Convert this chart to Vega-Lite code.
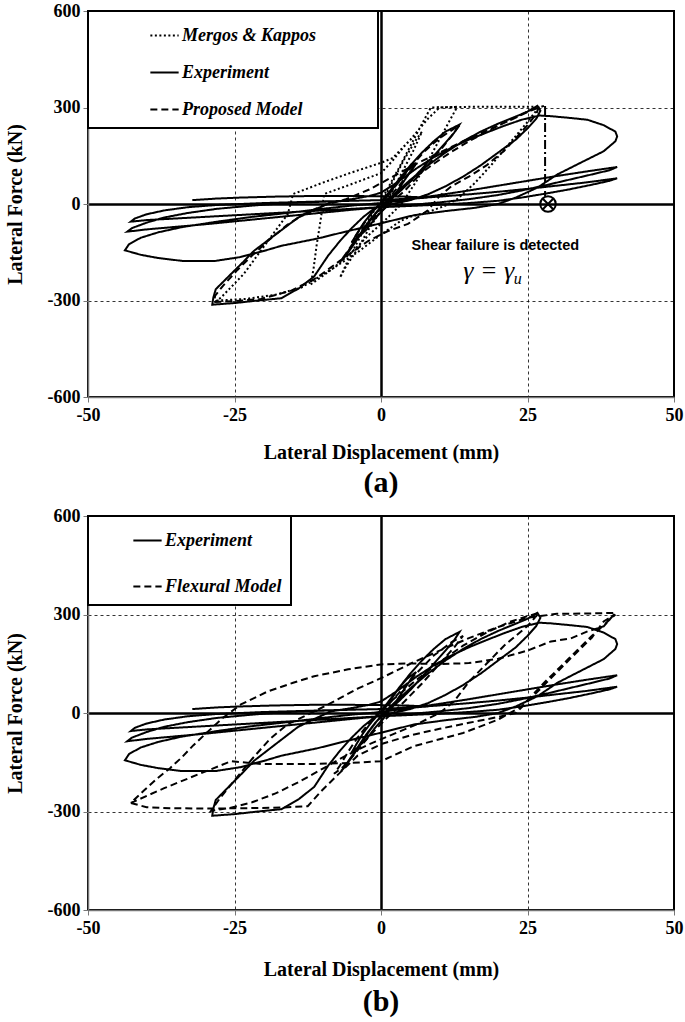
{
"$schema": "https://vega.github.io/schema/vega-lite/v6.json",
"padding": {"left": 4, "right": 4, "top": 1, "bottom": 2},
"config": {
 "view": {"stroke": "black", "strokeWidth": 2},
 "axis": {"labelFont": "Liberation Serif", "labelFontWeight": "bold", "labelFontSize": 18, "labelColor": "black", "titleFont": "Liberation Serif", "titleFontWeight": "bold", "titleFontSize": 20, "titleColor": "black", "tickColor": "#777", "tickSize": 5, "domainColor": "#777", "domainWidth": 1.5, "gridColor": "black", "labelFlush": false, "labelOverlap": false},
 "legend": {"strokeWidth": 2},
 "concat": {"spacing": 7}
},
"resolve": {"scale": {"strokeDash": "independent"}, "legend": {"strokeDash": "independent"}},
"datasets": {
 "fail": [{"x": 28, "y": 305, "y2": 24}],
 "mark": [{"x": 28.5, "y": 0}],
 "note": [{"x": 19.5, "y": -130, "t": "Shear failure is detected"}],
 "gam": [{"x": 18.4, "y": -208, "t": "γ = γ", "u": "u"}],
 "curves": [
{"s":"Experiment","x":0,"y":0},{"s":"Experiment","x":1.5,"y":35},{"s":"Experiment","x":3,"y":75},{"s":"Experiment","x":4.5,"y":105},{"s":"Experiment","x":6,"y":125},{"s":"Experiment","x":5,"y":100},{"s":"Experiment","x":3.5,"y":60},{"s":"Experiment","x":2,"y":20},{"s":"Experiment","x":0.5,"y":-15},{"s":"Experiment","x":-1,"y":-45},{"s":"Experiment","x":-2.5,"y":-80},{"s":"Experiment","x":-4,"y":-105},{"s":"Experiment","x":-5,"y":-120},{"s":"Experiment","x":-4.2,"y":-95},{"s":"Experiment","x":-3,"y":-60},{"s":"Experiment","x":-1.5,"y":-25},{"s":"Experiment","x":0,"y":5},
{"s":"Experiment","x":1.5,"y":40},{"s":"Experiment","x":3,"y":75},{"s":"Experiment","x":5,"y":120},{"s":"Experiment","x":7,"y":160},{"s":"Experiment","x":9,"y":195},{"s":"Experiment","x":11,"y":225},{"s":"Experiment","x":13.4,"y":247},{"s":"Experiment","x":12.5,"y":222},{"s":"Experiment","x":11,"y":190},{"s":"Experiment","x":9,"y":150},{"s":"Experiment","x":7,"y":110},{"s":"Experiment","x":5,"y":70},{"s":"Experiment","x":3,"y":35},{"s":"Experiment","x":1,"y":5},{"s":"Experiment","x":-1,"y":-30},{"s":"Experiment","x":-2.5,"y":-65},{"s":"Experiment","x":-4,"y":-105},{"s":"Experiment","x":-5.5,"y":-145},{"s":"Experiment","x":-6.8,"y":-177},{"s":"Experiment","x":-6.2,"y":-165},{"s":"Experiment","x":-5,"y":-135},{"s":"Experiment","x":-3.5,"y":-95},{"s":"Experiment","x":-2,"y":-55},{"s":"Experiment","x":-0.5,"y":-20},{"s":"Experiment","x":0.5,"y":0},
{"s":"Experiment","x":2.5,"y":35},{"s":"Experiment","x":5,"y":75},{"s":"Experiment","x":8,"y":120},{"s":"Experiment","x":11,"y":160},{"s":"Experiment","x":14,"y":195},{"s":"Experiment","x":17,"y":225},{"s":"Experiment","x":20,"y":250},{"s":"Experiment","x":23,"y":272},{"s":"Experiment","x":25,"y":287},{"s":"Experiment","x":26.7,"y":305},{"s":"Experiment","x":27.2,"y":290},{"s":"Experiment","x":26.5,"y":265},{"s":"Experiment","x":25,"y":235},{"s":"Experiment","x":23,"y":200},{"s":"Experiment","x":20,"y":160},{"s":"Experiment","x":17,"y":120},{"s":"Experiment","x":14,"y":85},{"s":"Experiment","x":11,"y":55},{"s":"Experiment","x":8,"y":30},{"s":"Experiment","x":5,"y":12},{"s":"Experiment","x":2,"y":0},{"s":"Experiment","x":-1,"y":-12},
{"s":"Experiment","x":-3,"y":-40},{"s":"Experiment","x":-5,"y":-75},{"s":"Experiment","x":-7,"y":-115},{"s":"Experiment","x":-9,"y":-160},{"s":"Experiment","x":-11.4,"y":-225},{"s":"Experiment","x":-14,"y":-262},{"s":"Experiment","x":-17,"y":-293},{"s":"Experiment","x":-21,"y":-300},{"s":"Experiment","x":-25,"y":-308},{"s":"Experiment","x":-28.8,"y":-313},{"s":"Experiment","x":-28.6,"y":-290},{"s":"Experiment","x":-28.2,"y":-265},{"s":"Experiment","x":-26,"y":-225},{"s":"Experiment","x":-23.5,"y":-180},{"s":"Experiment","x":-21.7,"y":-146},{"s":"Experiment","x":-18,"y":-95},{"s":"Experiment","x":-14.2,"y":-43},{"s":"Experiment","x":-11,"y":-15},{"s":"Experiment","x":-8.5,"y":5},{"s":"Experiment","x":-5,"y":15},{"s":"Experiment","x":-2,"y":25},{"s":"Experiment","x":0,"y":35},
{"s":"Experiment","x":3,"y":70},{"s":"Experiment","x":6,"y":110},{"s":"Experiment","x":9,"y":145},{"s":"Experiment","x":12,"y":175},{"s":"Experiment","x":15,"y":200},{"s":"Experiment","x":18,"y":222},{"s":"Experiment","x":21,"y":243},{"s":"Experiment","x":24,"y":262},{"s":"Experiment","x":27,"y":275},{"s":"Experiment","x":29,"y":273},{"s":"Experiment","x":32,"y":268},{"s":"Experiment","x":35.2,"y":262},{"s":"Experiment","x":38,"y":245},{"s":"Experiment","x":40,"y":225},{"s":"Experiment","x":40.3,"y":210},{"s":"Experiment","x":40,"y":195},{"s":"Experiment","x":38,"y":164},{"s":"Experiment","x":34.7,"y":134},{"s":"Experiment","x":30.1,"y":92},{"s":"Experiment","x":26.7,"y":51},{"s":"Experiment","x":23,"y":20},{"s":"Experiment","x":20,"y":0},{"s":"Experiment","x":16,"y":-12},{"s":"Experiment","x":11,"y":-22},{"s":"Experiment","x":5.6,"y":-35},{"s":"Experiment","x":0,"y":-60},{"s":"Experiment","x":-5.6,"y":-84},{"s":"Experiment","x":-11,"y":-108},{"s":"Experiment","x":-17,"y":-130},{"s":"Experiment","x":-20,"y":-146},{"s":"Experiment","x":-24,"y":-165},{"s":"Experiment","x":-28.3,"y":-177},{"s":"Experiment","x":-33.9,"y":-177},{"s":"Experiment","x":-38,"y":-168},{"s":"Experiment","x":-41,"y":-158},{"s":"Experiment","x":-43.7,"y":-144},{"s":"Experiment","x":-43,"y":-125},{"s":"Experiment","x":-41,"y":-105},{"s":"Experiment","x":-38,"y":-88},{"s":"Experiment","x":-34,"y":-72},{"s":"Experiment","x":-28,"y":-55},{"s":"Experiment","x":-22,"y":-40},{"s":"Experiment","x":-16,"y":-28},{"s":"Experiment","x":-10,"y":-15},{"s":"Experiment","x":-5,"y":-5},{"s":"Experiment","x":0,"y":3},
{"s":"Experiment","x":5,"y":15},{"s":"Experiment","x":10,"y":28},{"s":"Experiment","x":15,"y":42},{"s":"Experiment","x":20,"y":57},{"s":"Experiment","x":25,"y":72},{"s":"Experiment","x":30,"y":87},{"s":"Experiment","x":35,"y":101},{"s":"Experiment","x":40.3,"y":115},{"s":"Experiment","x":39,"y":105},{"s":"Experiment","x":36,"y":92},{"s":"Experiment","x":32,"y":75},{"s":"Experiment","x":28,"y":58},{"s":"Experiment","x":24,"y":42},{"s":"Experiment","x":20,"y":28},{"s":"Experiment","x":15,"y":15},{"s":"Experiment","x":10,"y":5},{"s":"Experiment","x":5,"y":-3},{"s":"Experiment","x":0,"y":-10},
{"s":"Experiment","x":-5,"y":-18},{"s":"Experiment","x":-10,"y":-27},{"s":"Experiment","x":-15,"y":-36},{"s":"Experiment","x":-20,"y":-45},{"s":"Experiment","x":-25,"y":-54},{"s":"Experiment","x":-30,"y":-63},{"s":"Experiment","x":-35,"y":-71},{"s":"Experiment","x":-40,"y":-79},{"s":"Experiment","x":-43.3,"y":-86},{"s":"Experiment","x":-42.5,"y":-75},{"s":"Experiment","x":-40,"y":-58},{"s":"Experiment","x":-37,"y":-42},{"s":"Experiment","x":-33,"y":-28},{"s":"Experiment","x":-28,"y":-15},{"s":"Experiment","x":-22,"y":-5},{"s":"Experiment","x":-16,"y":3},{"s":"Experiment","x":-10,"y":7},{"s":"Experiment","x":-5,"y":10},{"s":"Experiment","x":0,"y":12},
{"s":"Experiment","x":5,"y":17},{"s":"Experiment","x":10,"y":23},{"s":"Experiment","x":15,"y":30},{"s":"Experiment","x":20,"y":38},{"s":"Experiment","x":25,"y":47},{"s":"Experiment","x":30,"y":57},{"s":"Experiment","x":35,"y":67},{"s":"Experiment","x":40.3,"y":80},{"s":"Experiment","x":39,"y":72},{"s":"Experiment","x":36,"y":60},{"s":"Experiment","x":32,"y":45},{"s":"Experiment","x":28,"y":32},{"s":"Experiment","x":24,"y":20},{"s":"Experiment","x":20,"y":10},{"s":"Experiment","x":15,"y":3},{"s":"Experiment","x":10,"y":-2},{"s":"Experiment","x":5,"y":-6},{"s":"Experiment","x":0,"y":-10},
{"s":"Experiment","x":-5,"y":-15},{"s":"Experiment","x":-10,"y":-20},{"s":"Experiment","x":-15,"y":-25},{"s":"Experiment","x":-20,"y":-30},{"s":"Experiment","x":-25,"y":-35},{"s":"Experiment","x":-30,"y":-40},{"s":"Experiment","x":-35,"y":-45},{"s":"Experiment","x":-40,"y":-50},{"s":"Experiment","x":-42.7,"y":-55},{"s":"Experiment","x":-42,"y":-45},{"s":"Experiment","x":-40,"y":-32},{"s":"Experiment","x":-37,"y":-20},{"s":"Experiment","x":-33,"y":-10},{"s":"Experiment","x":-28,"y":-3},{"s":"Experiment","x":-20,"y":3},{"s":"Experiment","x":-10,"y":8},{"s":"Experiment","x":0,"y":12},{"s":"Experiment","x":5,"y":16},{"s":"Experiment","x":8,"y":20},{"s":"Experiment","x":4,"y":23},{"s":"Experiment","x":0,"y":24},{"s":"Experiment","x":-6,"y":25},{"s":"Experiment","x":-11.4,"y":25},{"s":"Experiment","x":-18,"y":23},{"s":"Experiment","x":-23.9,"y":20},{"s":"Experiment","x":-28,"y":17},{"s":"Experiment","x":-32.2,"y":12},

{"s":"Mergos & Kappos","x":0,"y":0},{"s":"Mergos & Kappos","x":2,"y":70},{"s":"Mergos & Kappos","x":4,"y":140},{"s":"Mergos & Kappos","x":6,"y":200},{"s":"Mergos & Kappos","x":7,"y":225},{"s":"Mergos & Kappos","x":5.5,"y":165},{"s":"Mergos & Kappos","x":3.5,"y":95},{"s":"Mergos & Kappos","x":1.5,"y":25},{"s":"Mergos & Kappos","x":0,"y":-20},{"s":"Mergos & Kappos","x":-2,"y":-75},{"s":"Mergos & Kappos","x":-4,"y":-140},{"s":"Mergos & Kappos","x":-6,"y":-195},{"s":"Mergos & Kappos","x":-7,"y":-229},{"s":"Mergos & Kappos","x":-5.5,"y":-170},{"s":"Mergos & Kappos","x":-3.5,"y":-100},{"s":"Mergos & Kappos","x":-1.5,"y":-30},{"s":"Mergos & Kappos","x":0,"y":10},
{"s":"Mergos & Kappos","x":3,"y":110},{"s":"Mergos & Kappos","x":6,"y":215},{"s":"Mergos & Kappos","x":8.5,"y":300},{"s":"Mergos & Kappos","x":13,"y":302},{"s":"Mergos & Kappos","x":11,"y":235},{"s":"Mergos & Kappos","x":8.5,"y":150},{"s":"Mergos & Kappos","x":6,"y":70},{"s":"Mergos & Kappos","x":3.5,"y":0},{"s":"Mergos & Kappos","x":1,"y":-45},{"s":"Mergos & Kappos","x":-2,"y":-95},{"s":"Mergos & Kappos","x":-5,"y":-150},{"s":"Mergos & Kappos","x":-8.5,"y":-205},{"s":"Mergos & Kappos","x":-12,"y":-250},{"s":"Mergos & Kappos","x":-11.5,"y":-200},{"s":"Mergos & Kappos","x":-11,"y":-130},{"s":"Mergos & Kappos","x":-10.3,"y":-50},{"s":"Mergos & Kappos","x":-9.7,"y":31},{"s":"Mergos & Kappos","x":-5,"y":62},{"s":"Mergos & Kappos","x":0,"y":96},{"s":"Mergos & Kappos","x":2,"y":135},{"s":"Mergos & Kappos","x":4,"y":180},{"s":"Mergos & Kappos","x":6.2,"y":222},{"s":"Mergos & Kappos","x":8.5,"y":300},{"s":"Mergos & Kappos","x":15,"y":302},{"s":"Mergos & Kappos","x":21,"y":302},{"s":"Mergos & Kappos","x":27,"y":302},
{"s":"Mergos & Kappos","x":25,"y":255},{"s":"Mergos & Kappos","x":22,"y":190},{"s":"Mergos & Kappos","x":19,"y":125},{"s":"Mergos & Kappos","x":16,"y":65},{"s":"Mergos & Kappos","x":13,"y":15},{"s":"Mergos & Kappos","x":11,"y":-5},{"s":"Mergos & Kappos","x":8,"y":-25},{"s":"Mergos & Kappos","x":5,"y":-40},{"s":"Mergos & Kappos","x":3.4,"y":-52},{"s":"Mergos & Kappos","x":0,"y":-95},{"s":"Mergos & Kappos","x":-4,"y":-150},{"s":"Mergos & Kappos","x":-8,"y":-198},{"s":"Mergos & Kappos","x":-13.6,"y":-260},{"s":"Mergos & Kappos","x":-18,"y":-282},{"s":"Mergos & Kappos","x":-23,"y":-295},{"s":"Mergos & Kappos","x":-28,"y":-300},
{"s":"Mergos & Kappos","x":-27.3,"y":-291},{"s":"Mergos & Kappos","x":-23.4,"y":-217},{"s":"Mergos & Kappos","x":-19.3,"y":-115},{"s":"Mergos & Kappos","x":-15.9,"y":-31},{"s":"Mergos & Kappos","x":-15,"y":31},{"s":"Mergos & Kappos","x":-10,"y":66},{"s":"Mergos & Kappos","x":-5,"y":98},{"s":"Mergos & Kappos","x":0,"y":128},{"s":"Mergos & Kappos","x":2,"y":143},{"s":"Mergos & Kappos","x":5,"y":200},{"s":"Mergos & Kappos","x":8,"y":265},{"s":"Mergos & Kappos","x":10,"y":300},{"s":"Mergos & Kappos","x":13,"y":302},

{"s":"Proposed Model","x":0,"y":0},{"s":"Proposed Model","x":2,"y":45},{"s":"Proposed Model","x":4,"y":90},{"s":"Proposed Model","x":6,"y":130},{"s":"Proposed Model","x":5,"y":100},{"s":"Proposed Model","x":3,"y":55},{"s":"Proposed Model","x":1,"y":10},{"s":"Proposed Model","x":-0.5,"y":-25},{"s":"Proposed Model","x":-2,"y":-60},{"s":"Proposed Model","x":-3.5,"y":-95},{"s":"Proposed Model","x":-5,"y":-120},{"s":"Proposed Model","x":-4,"y":-90},{"s":"Proposed Model","x":-2.5,"y":-50},{"s":"Proposed Model","x":-1,"y":-15},{"s":"Proposed Model","x":0.5,"y":10},
{"s":"Proposed Model","x":3,"y":70},{"s":"Proposed Model","x":5,"y":115},{"s":"Proposed Model","x":7.5,"y":165},{"s":"Proposed Model","x":10,"y":205},{"s":"Proposed Model","x":13.4,"y":245},{"s":"Proposed Model","x":12,"y":210},{"s":"Proposed Model","x":10,"y":165},{"s":"Proposed Model","x":8,"y":120},{"s":"Proposed Model","x":6,"y":80},{"s":"Proposed Model","x":4,"y":40},{"s":"Proposed Model","x":2,"y":10},{"s":"Proposed Model","x":0,"y":-25},{"s":"Proposed Model","x":-2,"y":-60},{"s":"Proposed Model","x":-4,"y":-105},{"s":"Proposed Model","x":-5.5,"y":-145},{"s":"Proposed Model","x":-7,"y":-180},{"s":"Proposed Model","x":-6,"y":-155},{"s":"Proposed Model","x":-4.5,"y":-115},{"s":"Proposed Model","x":-3,"y":-75},{"s":"Proposed Model","x":-1.5,"y":-40},{"s":"Proposed Model","x":0,"y":-10},
{"s":"Proposed Model","x":3,"y":40},{"s":"Proposed Model","x":6,"y":85},{"s":"Proposed Model","x":9,"y":125},{"s":"Proposed Model","x":12,"y":162},{"s":"Proposed Model","x":15,"y":195},{"s":"Proposed Model","x":18,"y":225},{"s":"Proposed Model","x":21,"y":252},{"s":"Proposed Model","x":24,"y":278},{"s":"Proposed Model","x":27,"y":305},{"s":"Proposed Model","x":26.5,"y":280},{"s":"Proposed Model","x":25,"y":245},{"s":"Proposed Model","x":23,"y":205},{"s":"Proposed Model","x":21,"y":165},{"s":"Proposed Model","x":18,"y":120},{"s":"Proposed Model","x":15,"y":85},{"s":"Proposed Model","x":12,"y":55},{"s":"Proposed Model","x":10,"y":25},{"s":"Proposed Model","x":8,"y":-20},{"s":"Proposed Model","x":4.6,"y":-62},{"s":"Proposed Model","x":1.2,"y":-84},{"s":"Proposed Model","x":-2.2,"y":-115},{"s":"Proposed Model","x":-6.3,"y":-167},{"s":"Proposed Model","x":-11,"y":-230},{"s":"Proposed Model","x":-15.4,"y":-270},{"s":"Proposed Model","x":-20.5,"y":-295},{"s":"Proposed Model","x":-25,"y":-302},{"s":"Proposed Model","x":-28.5,"y":-305},{"s":"Proposed Model","x":-28.3,"y":-285},{"s":"Proposed Model","x":-27,"y":-255},{"s":"Proposed Model","x":-24.5,"y":-205},{"s":"Proposed Model","x":-22,"y":-160},{"s":"Proposed Model","x":-19,"y":-110},{"s":"Proposed Model","x":-16,"y":-65},{"s":"Proposed Model","x":-13,"y":-30},{"s":"Proposed Model","x":-10,"y":-5},{"s":"Proposed Model","x":-6,"y":15},{"s":"Proposed Model","x":-2,"y":45},{"s":"Proposed Model","x":2,"y":85},{"s":"Proposed Model","x":6,"y":125},{"s":"Proposed Model","x":10,"y":160},{"s":"Proposed Model","x":14,"y":195},{"s":"Proposed Model","x":18,"y":228},{"s":"Proposed Model","x":22,"y":260},{"s":"Proposed Model","x":25.5,"y":290},{"s":"Proposed Model","x":27.8,"y":305},

{"s":"Flexural Model","x":0,"y":0},{"s":"Flexural Model","x":3,"y":60},{"s":"Flexural Model","x":6,"y":120},{"s":"Flexural Model","x":9,"y":175},{"s":"Flexural Model","x":12,"y":215},{"s":"Flexural Model","x":14,"y":235},{"s":"Flexural Model","x":12.5,"y":200},{"s":"Flexural Model","x":10,"y":150},{"s":"Flexural Model","x":7,"y":90},{"s":"Flexural Model","x":4,"y":35},{"s":"Flexural Model","x":1,"y":-15},{"s":"Flexural Model","x":-2,"y":-70},{"s":"Flexural Model","x":-4.5,"y":-125},{"s":"Flexural Model","x":-6.5,"y":-165},{"s":"Flexural Model","x":-8,"y":-185},{"s":"Flexural Model","x":-7,"y":-160},{"s":"Flexural Model","x":-5.5,"y":-115},{"s":"Flexural Model","x":-4,"y":-75},{"s":"Flexural Model","x":-2,"y":-30},{"s":"Flexural Model","x":0,"y":10},
{"s":"Flexural Model","x":3,"y":55},{"s":"Flexural Model","x":6,"y":100},{"s":"Flexural Model","x":10,"y":155},{"s":"Flexural Model","x":14,"y":205},{"s":"Flexural Model","x":18,"y":245},{"s":"Flexural Model","x":22,"y":278},{"s":"Flexural Model","x":25,"y":295},{"s":"Flexural Model","x":27,"y":305},
{"s":"Flexural Model","x":25,"y":265},{"s":"Flexural Model","x":21,"y":205},{"s":"Flexural Model","x":18,"y":150},{"s":"Flexural Model","x":15,"y":95},{"s":"Flexural Model","x":12.5,"y":36},{"s":"Flexural Model","x":10,"y":0},{"s":"Flexural Model","x":6,"y":-35},{"s":"Flexural Model","x":2,"y":-65},{"s":"Flexural Model","x":-2,"y":-95},{"s":"Flexural Model","x":-6,"y":-130},{"s":"Flexural Model","x":-10,"y":-170},{"s":"Flexural Model","x":-14,"y":-210},{"s":"Flexural Model","x":-18,"y":-245},{"s":"Flexural Model","x":-22,"y":-272},{"s":"Flexural Model","x":-26,"y":-290},{"s":"Flexural Model","x":-29,"y":-298},
{"s":"Flexural Model","x":-27.5,"y":-260},{"s":"Flexural Model","x":-25,"y":-205},{"s":"Flexural Model","x":-22,"y":-140},{"s":"Flexural Model","x":-19,"y":-80},{"s":"Flexural Model","x":-16,"y":-35},{"s":"Flexural Model","x":-12.5,"y":-5},{"s":"Flexural Model","x":-9,"y":26},{"s":"Flexural Model","x":-3.9,"y":75},{"s":"Flexural Model","x":0,"y":106},{"s":"Flexural Model","x":5,"y":150},{"s":"Flexural Model","x":10,"y":190},{"s":"Flexural Model","x":15,"y":228},{"s":"Flexural Model","x":20,"y":262},{"s":"Flexural Model","x":25,"y":290},{"s":"Flexural Model","x":30,"y":302},{"s":"Flexural Model","x":35,"y":303},{"s":"Flexural Model","x":40,"y":305},
{"s":"Flexural Model","x":38,"y":264},{"s":"Flexural Model","x":35.3,"y":249},{"s":"Flexural Model","x":32.4,"y":227},{"s":"Flexural Model","x":29,"y":218},{"s":"Flexural Model","x":25,"y":190},{"s":"Flexural Model","x":20,"y":165},{"s":"Flexural Model","x":15,"y":152},{"s":"Flexural Model","x":10,"y":149},{"s":"Flexural Model","x":5,"y":151},{"s":"Flexural Model","x":0,"y":148},{"s":"Flexural Model","x":-5.6,"y":133},{"s":"Flexural Model","x":-11.4,"y":112},{"s":"Flexural Model","x":-15,"y":92},{"s":"Flexural Model","x":-19.3,"y":66},{"s":"Flexural Model","x":-23.9,"y":26},{"s":"Flexural Model","x":-27,"y":-15},{"s":"Flexural Model","x":-29.5,"y":-56},{"s":"Flexural Model","x":-32,"y":-98},{"s":"Flexural Model","x":-34.1,"y":-137},{"s":"Flexural Model","x":-36,"y":-168},{"s":"Flexural Model","x":-38.1,"y":-198},{"s":"Flexural Model","x":-40.5,"y":-237},{"s":"Flexural Model","x":-42.7,"y":-274},
{"s":"Flexural Model","x":-40,"y":-287},{"s":"Flexural Model","x":-36,"y":-290},{"s":"Flexural Model","x":-30,"y":-291},{"s":"Flexural Model","x":-23,"y":-290},{"s":"Flexural Model","x":-17,"y":-288},{"s":"Flexural Model","x":-12.5,"y":-284},{"s":"Flexural Model","x":-10.2,"y":-238},{"s":"Flexural Model","x":-7.3,"y":-187},{"s":"Flexural Model","x":-4,"y":-130},{"s":"Flexural Model","x":0,"y":-95},{"s":"Flexural Model","x":5,"y":-68},{"s":"Flexural Model","x":10,"y":-48},{"s":"Flexural Model","x":15,"y":-30},{"s":"Flexural Model","x":20,"y":-12},{"s":"Flexural Model","x":23,"y":0},{"s":"Flexural Model","x":27,"y":70},{"s":"Flexural Model","x":32.4,"y":167},{"s":"Flexural Model","x":36,"y":230},{"s":"Flexural Model","x":38,"y":279},{"s":"Flexural Model","x":40,"y":300},
{"s":"Flexural Model","x":36,"y":235},{"s":"Flexural Model","x":32,"y":165},{"s":"Flexural Model","x":28,"y":95},{"s":"Flexural Model","x":24,"y":20},{"s":"Flexural Model","x":20,"y":-20},{"s":"Flexural Model","x":14,"y":-61},{"s":"Flexural Model","x":5.6,"y":-101},{"s":"Flexural Model","x":0,"y":-147},{"s":"Flexural Model","x":-5,"y":-152},{"s":"Flexural Model","x":-11.4,"y":-155},{"s":"Flexural Model","x":-20.5,"y":-155},{"s":"Flexural Model","x":-25.6,"y":-147},{"s":"Flexural Model","x":-31.2,"y":-187},{"s":"Flexural Model","x":-37,"y":-229},{"s":"Flexural Model","x":-42.7,"y":-274}
 ]
},
"vconcat": [
 {
  "width": 586, "height": 386,
  "title": {"text": "(a)", "orient": "bottom", "frame": "group", "anchor": "middle", "font": "Liberation Serif", "fontSize": 30, "fontWeight": "bold", "color": "black", "offset": 6},
  "encoding": {
   "x": {"field": "x", "type": "quantitative", "scale": {"domain": [-50, 50], "nice": false, "zero": false},
    "axis": {"values": [-50, -25, 0, 25, 50], "title": "Lateral Displacement (mm)", "titlePadding": 18, "labelPadding": 4, "labelExpr": "datum.value + ''",
     "gridDash": {"condition": {"test": "datum.value === 0", "value": [1, 0]}, "value": [3, 3]},
     "gridWidth": {"condition": {"test": "datum.value === 0", "value": 2.5}, "value": 0.8},
     "gridOpacity": {"condition": {"test": "abs(datum.value) === 50", "value": 0}, "value": 1}}},
   "y": {"field": "y", "type": "quantitative", "scale": {"domain": [-600, 600], "nice": false, "zero": false},
    "axis": {"values": [-600, -300, 0, 300, 600], "title": "Lateral Force (kN)", "titlePadding": 22, "labelPadding": 3, "labelExpr": "datum.value + ''",
     "gridDash": {"condition": {"test": "datum.value === 0", "value": [1, 0]}, "value": [3, 3]},
     "gridWidth": {"condition": {"test": "datum.value === 0", "value": 2.5}, "value": 0.8},
     "gridOpacity": {"condition": {"test": "abs(datum.value) === 600", "value": 0}, "value": 1}}}
  },
  "layer": [
   {"data": {"name": "curves"}, "transform": [{"filter": "datum.s !== 'Flexural Model'"}],
    "mark": {"type": "line", "color": "black", "strokeWidth": 2},
    "encoding": {"detail": {"field": "s"}, "order": {"value": null},
     "strokeDash": {"field": "s", "type": "nominal",
      "scale": {"domain": ["Mergos & Kappos", "Experiment", "Proposed Model"], "range": [[2, 2.5], [1, 0], [7, 4]]},
      "legend": {"title": null, "orient": "top-left", "offset": 0, "symbolType": "stroke", "symbolSize": 800, "symbolStrokeWidth": 2, "symbolStrokeColor": "black", "symbolOffset": 52, "padding": 9, "rowPadding": 12, "labelOffset": 2, "labelLimit": 500, "labelFont": "Liberation Serif", "labelFontSize": 18, "labelFontStyle": "italic", "labelFontWeight": "bold", "labelColor": "black", "strokeColor": "black", "fillColor": "white", "labelExpr": "datum.label + '\u2800\u2800\u2800\u2800'"}}}},
   {"data": {"name": "fail"}, "mark": {"type": "rule", "color": "black", "strokeWidth": 2, "strokeDash": [9, 3, 2, 3]}, "encoding": {"y2": {"field": "y2"}}},
   {"data": {"name": "mark"}, "mark": {"type": "point", "shape": "circle", "size": 240, "filled": false, "stroke": "black", "strokeWidth": 2, "opacity": 1}, "encoding": {}},
   {"data": {"name": "mark"}, "mark": {"type": "point", "shape": "M-0.7,-0.7L0.7,0.7M-0.7,0.7L0.7,-0.7", "size": 240, "filled": false, "stroke": "black", "strokeWidth": 2, "opacity": 1}, "encoding": {}},
   {"data": {"name": "note"}, "mark": {"type": "text", "font": "Liberation Sans", "fontWeight": "bold", "fontSize": 14.5, "color": "black", "align": "center", "baseline": "middle"}, "encoding": {"text": {"field": "t"}}},
   {"data": {"name": "gam"}, "mark": {"type": "text", "font": "Liberation Serif", "fontStyle": "italic", "fontSize": 26, "color": "black", "align": "center", "baseline": "middle"}, "encoding": {"text": {"field": "t"}}},
   {"data": {"name": "gam"}, "mark": {"type": "text", "font": "Liberation Serif", "fontStyle": "italic", "fontSize": 16, "color": "black", "align": "left", "baseline": "middle", "dx": 25, "dy": 8}, "encoding": {"text": {"field": "u"}}}
  ]
 },
 {
  "width": 586, "height": 394,
  "title": {"text": "(b)", "orient": "bottom", "frame": "group", "anchor": "middle", "font": "Liberation Serif", "fontSize": 30, "fontWeight": "bold", "color": "black", "offset": 8},
  "encoding": {
   "x": {"field": "x", "type": "quantitative", "scale": {"domain": [-50, 50], "nice": false, "zero": false},
    "axis": {"values": [-50, -25, 0, 25, 50], "title": "Lateral Displacement (mm)", "titlePadding": 22, "labelPadding": 4, "labelExpr": "datum.value + ''",
     "gridDash": {"condition": {"test": "datum.value === 0", "value": [1, 0]}, "value": [3, 3]},
     "gridWidth": {"condition": {"test": "datum.value === 0", "value": 2.5}, "value": 0.8},
     "gridOpacity": {"condition": {"test": "abs(datum.value) === 50", "value": 0}, "value": 1}}},
   "y": {"field": "y", "type": "quantitative", "scale": {"domain": [-600, 600], "nice": false, "zero": false},
    "axis": {"values": [-600, -300, 0, 300, 600], "title": "Lateral Force (kN)", "titlePadding": 22, "labelPadding": 3, "labelExpr": "datum.value + ''",
     "gridDash": {"condition": {"test": "datum.value === 0", "value": [1, 0]}, "value": [3, 3]},
     "gridWidth": {"condition": {"test": "datum.value === 0", "value": 2.5}, "value": 0.8},
     "gridOpacity": {"condition": {"test": "abs(datum.value) === 600", "value": 0}, "value": 1}}}
  },
  "layer": [
   {"data": {"name": "curves"}, "transform": [{"filter": "datum.s === 'Experiment' || datum.s === 'Flexural Model'"}],
    "mark": {"type": "line", "color": "black", "strokeWidth": 2},
    "encoding": {"detail": {"field": "s"}, "order": {"value": null},
     "strokeDash": {"field": "s", "type": "nominal",
      "scale": {"domain": ["Experiment", "Flexural Model"], "range": [[1, 0], [7, 4]]},
      "legend": {"title": null, "orient": "top-left", "offset": 0, "symbolType": "stroke", "symbolSize": 800, "symbolStrokeWidth": 2, "symbolStrokeColor": "black", "symbolOffset": 35, "padding": 9, "rowPadding": 21, "labelOffset": 2, "labelLimit": 500, "labelFont": "Liberation Serif", "labelFontSize": 18, "labelFontStyle": "italic", "labelFontWeight": "bold", "labelColor": "black", "strokeColor": "black", "fillColor": "white"}}}}
  ]
 }
]
}
